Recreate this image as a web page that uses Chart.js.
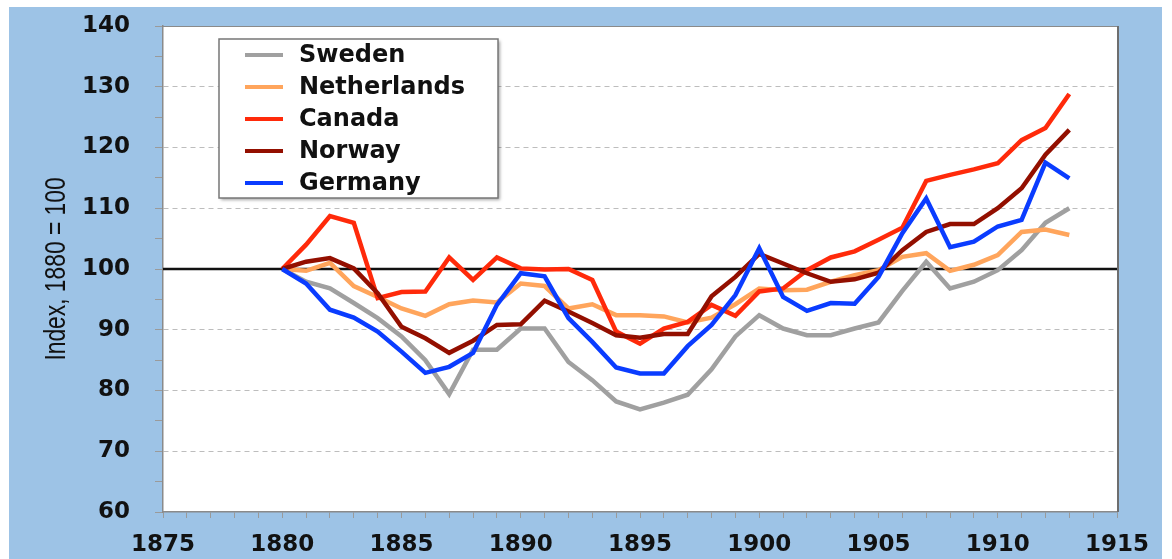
<!DOCTYPE html>
<html>
<head>
<meta charset="utf-8">
<title>Index, 1880 = 100</title>
<script src="https://cdn.jsdelivr.net/npm/chart.js@4.4.1/dist/chart.umd.min.js"></script>
<style>
  html, body { margin: 0; padding: 0; background: #fff; }
  canvas { display: block; }
</style>
</head>
<body>
<canvas id="chart" width="1172" height="559"></canvas>
<script>
// years on the x axis
const years = [1880, 1881, 1882, 1883, 1884, 1885, 1886, 1887, 1888, 1889,
               1890, 1891, 1892, 1893, 1894, 1895, 1896, 1897, 1898, 1899,
               1900, 1901, 1902, 1903, 1904, 1905, 1906, 1907, 1908, 1909,
               1910, 1911, 1912, 1913];

const countries = ['Sweden', 'Netherlands', 'Canada', 'Norway', 'Germany'];

const sweden = [100, 97.9, 96.8, 94.4, 91.9, 88.9, 85.0, 79.4, 86.7, 86.7,
                90.2, 90.2, 84.7, 81.7, 78.2, 76.9, 78.0, 79.3, 83.5, 88.9,
                92.4, 90.2, 89.1, 89.1, 90.2, 91.2, 96.4, 101.2, 96.8, 97.9,
                99.8, 103.1, 107.6, 110.0];
const netherlands = [100, 99.7, 101.0, 97.2, 95.4, 93.5, 92.3, 94.2, 94.8, 94.5,
                     97.6, 97.2, 93.5, 94.2, 92.4, 92.4, 92.2, 91.2, 92.0, 94.2,
                     96.8, 96.5, 96.6, 97.9, 99.0, 99.8, 102.0, 102.6, 99.7, 100.7,
                     102.3, 106.1, 106.5, 105.6];
const canada = [100, 104.0, 108.7, 107.6, 95.2, 96.2, 96.3, 101.9, 98.2, 101.9,
                100.1, 99.9, 100.0, 98.2, 89.7, 87.7, 90.2, 91.3, 94.1, 92.3,
                96.3, 96.8, 99.8, 101.9, 102.9, 104.8, 106.8, 114.5, 115.5, 116.4,
                117.4, 121.2, 123.2, 128.8];
const norway = [100, 101.2, 101.8, 100.1, 96.0, 90.5, 88.6, 86.2, 88.2, 90.8,
                90.9, 94.8, 93.0, 91.1, 89.1, 88.7, 89.3, 89.3, 95.5, 98.7,
                102.5, 100.9, 99.3, 97.9, 98.3, 99.4, 103.1, 106.1, 107.4, 107.4,
                110.0, 113.3, 118.8, 122.9];
const germany = [100, 97.6, 93.3, 92.0, 89.7, 86.4, 82.9, 83.9, 86.2, 94.1,
                 99.3, 98.8, 91.9, 88.0, 83.8, 82.8, 82.8, 87.3, 90.8, 95.7,
                 103.4, 95.4, 93.1, 94.4, 94.3, 98.7, 105.9, 111.6, 103.6, 104.5,
                 107.0, 108.1, 117.5, 114.9];

const baseValue = 100;
const yTitle = 'Index, 1880 = 100';

const seriesValues = [sweden, netherlands, canada, norway, germany];
const seriesColors = ['#A0A0A0', '#FFA55C', '#FF2A0A', '#930F00', '#0A3CFF'];
// germany on top, sweden underneath
const drawOrder = [4, 3, 2, 1, 0];

const FONT = '"DejaVu Sans", Verdana, sans-serif';

const datasets = countries.map((name, i) => ({
    label: name,
    data: years.map((yr, j) => ({ x: yr, y: seriesValues[i][j] })),
    borderColor: seriesColors[i],
    backgroundColor: seriesColors[i],
    borderWidth: 4.5,
    pointRadius: 0,
    tension: 0,
    order: drawOrder[i]
}));

// blue frame, white plot area, the black 100 line and the narrow y title
const backdrop = {
    id: 'backdrop',
    beforeDraw(chart) {
        const { ctx, chartArea: a } = chart;
        ctx.save();
        ctx.fillStyle = '#FFFFFF';
        ctx.fillRect(0, 0, chart.width, chart.height);
        ctx.fillStyle = '#9DC3E6';
        ctx.fillRect(9, 7, chart.width - 19, chart.height - 7);
        ctx.fillStyle = '#FFFFFF';
        ctx.fillRect(a.left, a.top, a.width, a.height);

        // y axis title, condensed like the original
        ctx.translate(57, (a.top + a.bottom) / 2);
        ctx.rotate(-Math.PI / 2);
        ctx.scale(0.76, 1);
        ctx.font = '30px "Liberation Sans", Arial, sans-serif';
        ctx.textAlign = 'center';
        ctx.textBaseline = 'middle';
        ctx.fillStyle = '#111111';
        ctx.fillText(yTitle, 0, 0);
        ctx.restore();
    },
    beforeDatasetsDraw(chart) {
        const { ctx, chartArea: a, scales } = chart;
        const y = scales.y.getPixelForValue(baseValue);
        ctx.save();
        ctx.strokeStyle = '#8A8A8A';
        ctx.lineWidth = 1;
        ctx.beginPath();
        ctx.moveTo(a.left, a.top + 0.5);
        ctx.lineTo(a.right, a.top + 0.5);
        ctx.stroke();
        ctx.strokeStyle = '#6E6E6E';
        ctx.lineWidth = 2;
        ctx.beginPath();
        ctx.moveTo(a.right + 1, a.top);
        ctx.lineTo(a.right + 1, a.bottom);
        ctx.stroke();
        ctx.strokeStyle = '#111111';
        ctx.lineWidth = 2.5;
        ctx.beginPath();
        ctx.moveTo(a.left, y);
        ctx.lineTo(a.right, y);
        ctx.stroke();
        ctx.restore();
    }
};

// framed legend inside the plot, top left
const boxLegend = {
    id: 'boxLegend',
    afterDraw(chart) {
        const { ctx, chartArea: a } = chart;
        const x = a.left + 56, y = a.top + 13, w = 279, h = 159;
        ctx.save();
        ctx.shadowColor = 'rgba(0,0,0,0.35)';
        ctx.shadowBlur = 3;
        ctx.shadowOffsetX = 2;
        ctx.shadowOffsetY = 2;
        ctx.fillStyle = '#FFFFFF';
        ctx.fillRect(x, y, w, h);
        ctx.restore();

        ctx.save();
        ctx.strokeStyle = '#777777';
        ctx.lineWidth = 1.5;
        ctx.strokeRect(x, y, w, h);
        ctx.font = 'bold 24px ' + FONT;
        ctx.textAlign = 'left';
        ctx.textBaseline = 'middle';
        ctx.fillStyle = '#111111';
        chart.data.datasets.forEach((ds, i) => {
            const rowY = y + 16 + i * 32;
            ctx.strokeStyle = ds.borderColor;
            ctx.lineWidth = 4;
            ctx.beginPath();
            ctx.moveTo(x + 26, rowY);
            ctx.lineTo(x + 64, rowY);
            ctx.stroke();
            ctx.fillText(ds.label, x + 80, rowY + 1);
        });
        ctx.restore();
    }
};

new Chart(document.getElementById('chart'), {
    type: 'line',
    data: { datasets },
    options: {
        responsive: false,
        animation: false,
        layout: { padding: { left: 20, right: 55, top: 26, bottom: 0 } },
        plugins: {
            legend: { display: false },
            tooltip: { enabled: false }
        },
        scales: {
            x: {
                type: 'linear',
                min: 1875,
                max: 1915,
                afterFit: (scale) => {
                    scale.height = 47;
                    scale.paddingLeft = 0;
                    scale.paddingRight = 0;
                },
                ticks: {
                    stepSize: 1,
                    autoSkip: false,
                    maxRotation: 0,
                    padding: 13,
                    color: '#111111',
                    font: { family: FONT, size: 23, weight: 'bold' },
                    callback: (v) => (v % 5 === 0 ? String(v) : '')
                },
                grid: {
                    drawOnChartArea: false,
                    drawTicks: true,
                    tickLength: 6,
                    tickColor: '#9A9A9A'
                },
                border: { color: '#8A8A8A', width: 1.5 }
            },
            y: {
                min: 60,
                max: 140,
                afterFit: (scale) => {
                    scale.width = 143;
                    scale.paddingTop = 0;
                    scale.paddingBottom = 0;
                },
                ticks: {
                    stepSize: 5,
                    autoSkip: false,
                    padding: 25,
                    color: '#111111',
                    font: { family: FONT, size: 23, weight: 'bold' },
                    callback: (v) => (v % 10 === 0 ? String(v) : '')
                },
                grid: {
                    color: (c) => {
                        const v = c.tick ? c.tick.value : 0;
                        return (v % 10 === 0 && v > 60 && v < 140) ? '#BDBDBD' : 'rgba(0,0,0,0)';
                    },
                    lineWidth: 1,
                    drawTicks: true,
                    tickLength: 8,
                    tickColor: '#9A9A9A'
                },
                border: { color: '#8A8A8A', width: 1.5, dash: [5, 4] },
                title: { display: false }
            }
        }
    },
    plugins: [backdrop, boxLegend]
});
</script>
</body>
</html>
